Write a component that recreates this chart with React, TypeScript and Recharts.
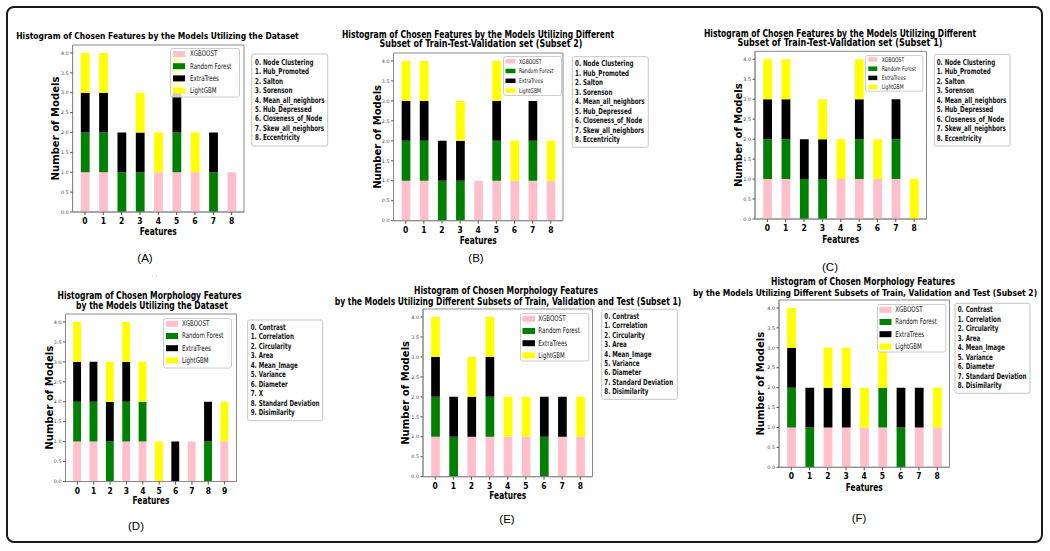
import React, { useLayoutEffect, useRef, useState } from 'react';
import { BarChart, Bar, XAxis, YAxis, Legend, ReferenceArea } from 'recharts';

const PAGE_W = 1050;
const PAGE_H = 551;

const SERIES_NAMES = ['XGBOOST', 'Random Forest', 'ExtraTrees', 'LightGBM'];
const SERIES_KEYS = ['xgb', 'rf', 'et', 'lgbm'];
const SERIES_COLORS = ['#ffc0cb', '#008000', '#000000', '#ffff00'];
const Y_TICKS = [0, 0.5, 1, 1.5, 2, 2.5, 3, 3.5, 4];
const Y_MAX = 4.2;

const GRAPH_FEATURES = [
  '0. Node Clustering', '1. Hub_Promoted', '2. Salton', '3. Sorenson', '4. Mean_all_neighbors',
  '5. Hub_Depressed', '6. Closeness_of_Node', '7. Skew_all_neighbors', '8. Eccentricity',
];
const MORPH_FEATURES_D = [
  '0. Contrast', '1. Correlation', '2. Circularity', '3. Area', '4. Mean_Image', '5. Variance',
  '6. Diameter', '7. X', '8. Standard Deviation', '9. Disimilarity',
];
const MORPH_FEATURES_EF = [
  '0. Contrast', '1. Correlation', '2. Circularity', '3. Area', '4. Mean_Image', '5. Variance',
  '6. Diameter', '7. Standard Deviation', '8. Disimilarity',
];

// Panel A
const A_XGB = [1, 1, 0, 0, 1, 1, 1, 0, 1];
const A_RF = [1, 1, 1, 1, 0, 1, 0, 1, 0];
const A_ET = [1, 1, 1, 1, 0, 1, 0, 1, 0];
const A_LGBM = [1, 1, 0, 1, 1, 1, 1, 0, 0];
// Panel B
const B_XGB = [1, 1, 0, 0, 1, 1, 1, 1, 1];
const B_RF = [1, 1, 1, 1, 0, 1, 0, 1, 0];
const B_ET = [1, 1, 1, 1, 0, 1, 0, 1, 0];
const B_LGBM = [1, 1, 0, 1, 0, 1, 1, 0, 1];
// Panel C
const C_XGB = [1, 1, 0, 0, 1, 1, 1, 1, 0];
const C_RF = [1, 1, 1, 1, 0, 1, 0, 1, 0];
const C_ET = [1, 1, 1, 1, 0, 1, 0, 1, 0];
const C_LGBM = [1, 1, 0, 1, 1, 1, 1, 0, 1];
// Panel D
const D_XGB = [1, 1, 0, 1, 1, 0, 0, 1, 0, 1];
const D_RF = [1, 1, 1, 1, 1, 0, 0, 0, 1, 0];
const D_ET = [1, 1, 1, 1, 0, 0, 1, 0, 1, 0];
const D_LGBM = [1, 0, 1, 1, 1, 1, 0, 0, 0, 1];
// Panel E
const E_XGB = [1, 0, 1, 1, 1, 1, 0, 1, 1];
const E_RF = [1, 1, 0, 1, 0, 0, 1, 0, 0];
const E_ET = [1, 1, 1, 1, 0, 0, 1, 1, 0];
const E_LGBM = [1, 0, 1, 1, 1, 1, 0, 0, 1];
// Panel F
const F_XGB = [1, 0, 1, 1, 1, 1, 0, 1, 1];
const F_RF = [1, 1, 0, 0, 0, 1, 1, 0, 0];
const F_ET = [1, 1, 1, 1, 0, 0, 1, 1, 0];
const F_LGBM = [1, 0, 1, 1, 1, 1, 0, 0, 1];

const TITLE_A = ['Histogram of Chosen Features by the Models Utilizing the Dataset'];
const TITLE_B = ['Histogram of Chosen Features by the Models Utilizing Different', 'Subset of Train-Test-Validation set (Subset 2)'];
const TITLE_C = ['Histogram of Chosen Features by the Models Utilizing Different', 'Subset of Train-Test-Validation set (Subset 1)'];
const TITLE_D = ['Histogram of Chosen Morphology Features', 'by the Models Utilizing the Dataset'];
const TITLE_E = ['Histogram of Chosen Morphology Features', 'by the Models Utilizing Different Subsets of Train, Validation and Test (Subset 1)'];
const TITLE_F = ['Histogram of Chosen Morphology Features', 'by the Models Utilizing Different Subsets of Train, Validation and Test (Subset 2)'];

const X_LABEL = 'Features';
const Y_LABEL = 'Number of Models';

const FRAME = '#8a8a8a';
const FONT = '"DejaVu Sans", sans-serif';

function buildRows(xgb: number[], rf: number[], et: number[], lgbm: number[]) {
  return xgb.map((_, i) => ({ x: i, xgb: xgb[i], rf: rf[i], et: et[i], lgbm: lgbm[i] }));
}

type Layout = {
  L: number; R: number; T: number; B: number;
  titles: { cx: number; y: number; w: number }[];
  ylabX: number; xlabY: number;
  tag: { x: number; y: number; t: string };
  legend: { x: number; y: number; w: number; h: number; row0: number; pitch: number; swX: number; swW: number; swH: number; txX: number; font: number };
  side: { x: number; y: number; w: number; h: number; row0: number; pitch: number; txX: number };
};

const LAYOUT_A: Layout = {
  L: 72.6, R: 244, T: 45, B: 212,
  titles: [{ cx: 157.5, y: 39, w: 283 }],
  ylabX: 56, xlabY: 231, tag: { x: 145, y: 257.5, t: '(A)' },
  legend: { x: 170, y: 47.5, w: 70, h: 49.5, row0: 6, pitch: 12.2, swX: 3, swW: 12, swH: 6, txX: 20, font: 7.9 },
  side: { x: 251.7, y: 54, w: 76, h: 92, row0: 62.3, pitch: 9.47, txX: 255 },
};
const LAYOUT_B: Layout = {
  L: 393.5, R: 563, T: 53, B: 220.7,
  titles: [{ cx: 478, y: 37.5, w: 272 }, { cx: 481, y: 46.5, w: 203 }],
  ylabX: 377.3, xlabY: 240, tag: { x: 476, y: 258, t: '(B)' },
  legend: { x: 503, y: 55.5, w: 59, h: 40, row0: 5.2, pitch: 9.8, swX: 2.5, swW: 10, swH: 4.5, txX: 16, font: 6.5 },
  side: { x: 572.3, y: 56.7, w: 76, h: 90.6, row0: 64, pitch: 9.5, txX: 575 },
};
const LAYOUT_C: Layout = {
  L: 755, R: 926.5, T: 51.3, B: 219,
  titles: [{ cx: 840, y: 37, w: 272 }, { cx: 840, y: 46, w: 205 }],
  ylabX: 738.3, xlabY: 239, tag: { x: 830, y: 266.7, t: '(C)' },
  legend: { x: 865, y: 54.5, w: 58.3, h: 36.7, row0: 4.5, pitch: 9.2, swX: 3.3, swW: 9, swH: 4.5, txX: 16.7, font: 6.5 },
  side: { x: 934.3, y: 54.3, w: 75.7, h: 91.7, row0: 62.3, pitch: 9.5, txX: 936.7 },
};
const LAYOUT_D: Layout = {
  L: 65.5, R: 236.5, T: 314, B: 481.5,
  titles: [{ cx: 149.5, y: 298.5, w: 184 }, { cx: 152, y: 309, w: 152 }],
  ylabX: 49.3, xlabY: 500, tag: { x: 136, y: 526, t: '(D)' },
  legend: { x: 163.3, y: 317.5, w: 69, h: 50.5, row0: 5.8, pitch: 12.2, swX: 3, swW: 12, swH: 6, txX: 19, font: 7.9 },
  side: { x: 247.7, y: 320, w: 75, h: 100.7, row0: 327.3, pitch: 9.49, txX: 250.7 },
};
const LAYOUT_E: Layout = {
  L: 423, R: 592.5, T: 309, B: 476.7,
  titles: [{ cx: 506, y: 293.5, w: 184 }, { cx: 508, y: 304.5, w: 347 }],
  ylabX: 405.7, xlabY: 495, tag: { x: 507, y: 519, t: '(E)' },
  legend: { x: 520, y: 312.5, w: 69.3, h: 48.5, row0: 5.8, pitch: 12.2, swX: 2.5, swW: 12.5, swH: 6, txX: 18.3, font: 7.9 },
  side: { x: 601.7, y: 309.3, w: 75.6, h: 90, row0: 316.7, pitch: 9.38, txX: 604.3 },
};
const LAYOUT_F: Layout = {
  L: 779, R: 949.5, T: 300, B: 467.3,
  titles: [{ cx: 863, y: 285, w: 184 }, { cx: 865, y: 296, w: 345 }],
  ylabX: 760.7, xlabY: 486.7, tag: { x: 859, y: 518, t: '(F)' },
  legend: { x: 876.7, y: 303.5, w: 69.3, h: 48.5, row0: 5.8, pitch: 12.2, swX: 2.5, swW: 12, swH: 6, txX: 18.3, font: 7.9 },
  side: { x: 955, y: 303.3, w: 75, h: 90, row0: 310, pitch: 9.46, txX: 957.7 },
};

const PANELS = [
  { key: 'A', rows: buildRows(A_XGB, A_RF, A_ET, A_LGBM), title: TITLE_A, features: GRAPH_FEATURES, lay: LAYOUT_A },
  { key: 'B', rows: buildRows(B_XGB, B_RF, B_ET, B_LGBM), title: TITLE_B, features: GRAPH_FEATURES, lay: LAYOUT_B },
  { key: 'C', rows: buildRows(C_XGB, C_RF, C_ET, C_LGBM), title: TITLE_C, features: GRAPH_FEATURES, lay: LAYOUT_C },
  { key: 'D', rows: buildRows(D_XGB, D_RF, D_ET, D_LGBM), title: TITLE_D, features: MORPH_FEATURES_D, lay: LAYOUT_D },
  { key: 'E', rows: buildRows(E_XGB, E_RF, E_ET, E_LGBM), title: TITLE_E, features: MORPH_FEATURES_EF, lay: LAYOUT_E },
  { key: 'F', rows: buildRows(F_XGB, F_RF, F_ET, F_LGBM), title: TITLE_F, features: MORPH_FEATURES_EF, lay: LAYOUT_F },
];

// Text squeezed horizontally to a measured target width (keeps real bounding box)
function FitText({ x, y, w, rotate, children, fontSize, fontWeight, fontFamily }: any) {
  const ref = useRef<SVGTextElement>(null);
  const [sx, setSx] = useState(0.72);
  useLayoutEffect(() => {
    if (ref.current) {
      const len = ref.current.getComputedTextLength();
      if (len > 0) setSx(w / len);
    }
  }, [w, children, fontSize]);
  const tf = rotate ? `translate(${x},${y}) rotate(-90) scale(${sx},1)` : `translate(${x},${y}) scale(${sx},1)`;
  return (
    <g transform={tf}>
      <text ref={ref} x={0} y={0} textAnchor="middle" dominantBaseline={rotate ? 'central' : undefined}
        fontSize={fontSize} fontWeight={fontWeight} fontFamily={fontFamily} fill="#000">{children}</text>
    </g>
  );
}

function XTick(props: any) {
  const { x, y, payload } = props;
  return (
    <g transform={`translate(${x},${y + 7})`}>
      <text textAnchor="middle" fontSize={9.5} fontWeight="bold" fill="#000" fontFamily={FONT} transform="scale(0.8,1)">
        {payload.value}
      </text>
    </g>
  );
}

function InsideLegend({ cfg, payload }: { cfg: Layout['legend']; payload?: any[] }) {
  let items = SERIES_NAMES.map((name, i) => ({ name, color: SERIES_COLORS[i] }));
  if (payload && payload.length === SERIES_NAMES.length) {
    items = [...payload]
      .map((p: any) => ({ name: String(p.value), color: p.color }))
      .sort((a, b) => SERIES_NAMES.indexOf(a.name) - SERIES_NAMES.indexOf(b.name));
  }
  return (
    <svg width={cfg.w} height={cfg.h} style={{ display: 'block', overflow: 'visible' }}>
      <rect x={0.5} y={0.5} width={cfg.w - 1} height={cfg.h - 1} rx={2} fill="#ffffff" fillOpacity={0.8} stroke="#cccccc" />
      {items.map((it, i) => {
        const cy = cfg.row0 + i * cfg.pitch;
        return (
          <g key={it.name}>
            <rect x={cfg.swX} y={cy - cfg.swH / 2} width={cfg.swW} height={cfg.swH} fill={it.color} />
            <g transform={`translate(${cfg.txX},${cy}) scale(0.7,1)`}>
              <text x={0} y={0} dominantBaseline="central" fontSize={cfg.font} fontFamily={FONT} fill="#111">{it.name}</text>
            </g>
          </g>
        );
      })}
    </svg>
  );
}

function PanelChart({ rows, lay }: { rows: any[]; lay: Layout }) {
  const n = rows.length;
  const margin = 0.05 * (n - 1 + 0.5);
  const lo = -0.25 - margin;
  const hi = n - 1 + 0.25 + margin;
  const spacing = (lay.R - lay.L) / (hi - lo);
  const barSize = spacing * 0.48;
  const xTicks = rows.map((r) => r.x);
  const YW = 30;
  const XH = 20;
  return (
    <div style={{ position: 'absolute', left: 0, top: 0 }}>
      <BarChart
        width={PAGE_W}
        height={PAGE_H}
        data={rows}
        margin={{ left: lay.L - YW, right: PAGE_W - lay.R, top: lay.T, bottom: PAGE_H - lay.B - XH }}
      >
        <XAxis
          dataKey="x"
          type="number"
          domain={[lo, hi]}
          ticks={xTicks}
          interval={0}
          height={XH}
          tickSize={3}
          tickMargin={2}
          allowDataOverflow
          axisLine={{ stroke: FRAME }}
          tickLine={{ stroke: '#555' }}
          tick={(p: any) => <XTick {...p} />}
        />
        <YAxis
          type="number"
          domain={[0, Y_MAX]}
          ticks={Y_TICKS}
          interval={0}
          width={YW}
          tickSize={2.5}
          tickMargin={1.5}
          allowDataOverflow
          axisLine={{ stroke: FRAME }}
          tickLine={{ stroke: '#555' }}
          tick={{ fontSize: 4.8, fill: '#444', fontFamily: FONT }}
          tickFormatter={(v: number) => v.toFixed(1)}
        />
        {SERIES_KEYS.map((k, i) => (
          <Bar key={k} dataKey={k} name={SERIES_NAMES[i]} stackId="s" fill={SERIES_COLORS[i]} barSize={barSize} isAnimationActive={false} />
        ))}
        <ReferenceArea x1={lo} x2={hi} y1={0} y2={Y_MAX} fill="none" stroke={FRAME} strokeWidth={1} ifOverflow="visible" />
        <Legend
          layout="vertical"
          align="center"
          verticalAlign="middle"
          wrapperStyle={{ left: lay.legend.x, top: lay.legend.y, width: lay.legend.w, height: lay.legend.h, margin: 0, padding: 0 }}
          content={(props: any) => <InsideLegend cfg={lay.legend} payload={props.payload} />}
        />
      </BarChart>
    </div>
  );
}

function PanelText({ title, features, lay }: { title: string[]; features: string[]; lay: Layout }) {
  const cx = (lay.L + lay.R) / 2;
  const cy = (lay.T + lay.B) / 2;
  const s = lay.side;
  return (
    <g>
      {title.map((t, i) => (
        <FitText key={i} x={lay.titles[i].cx} y={lay.titles[i].y} w={lay.titles[i].w} fontSize={9.6} fontWeight="bold" fontFamily={FONT}>{t}</FitText>
      ))}
      <FitText x={lay.ylabX} y={cy} w={104} rotate fontSize={10} fontWeight="bold" fontFamily={FONT}>{Y_LABEL}</FitText>
      <FitText x={cx} y={lay.xlabY + 3.8} w={37} fontSize={10} fontWeight="bold" fontFamily={FONT}>{X_LABEL}</FitText>
      <text x={lay.tag.x} y={lay.tag.y} textAnchor="middle" dominantBaseline="central" fontSize={11.5}
        fontFamily='"Liberation Sans", sans-serif' fill="#000">{lay.tag.t}</text>
      <rect x={s.x} y={s.y} width={s.w} height={s.h} rx={2} fill="#ffffff" stroke="#c4c4c4" strokeWidth={1} />
      {features.map((f, i) => (
        <g key={f} transform={`translate(${s.txX},${s.row0 + i * s.pitch}) scale(0.69,1)`}>
          <text x={0} y={0} dominantBaseline="central" fontSize={8.1} fontWeight="bold" fill="#111">{f}</text>
        </g>
      ))}
    </g>
  );
}

export default function App() {
  return (
    <div style={{ position: 'absolute', left: 0, top: 0, width: PAGE_W, height: PAGE_H, background: '#ffffff', fontFamily: FONT, overflow: 'hidden' }}>
      <div style={{ position: 'absolute', left: 6, top: 6, width: 1037, height: 537, border: '2px solid #1a1a1a', borderRadius: 8, boxSizing: 'border-box' }} />
      {PANELS.map((p) => (
        <PanelChart key={p.key} rows={p.rows} lay={p.lay} />
      ))}
      <svg width={PAGE_W} height={PAGE_H} style={{ position: 'absolute', left: 0, top: 0, pointerEvents: 'none' }} fontFamily={FONT}>
        {PANELS.map((p) => (
          <PanelText key={p.key} title={p.title} features={p.features} lay={p.lay} />
        ))}
        <text x={154.5} y={278} textAnchor="middle" fontSize={6} fill="#444">· ·</text>
      </svg>
    </div>
  );
}
